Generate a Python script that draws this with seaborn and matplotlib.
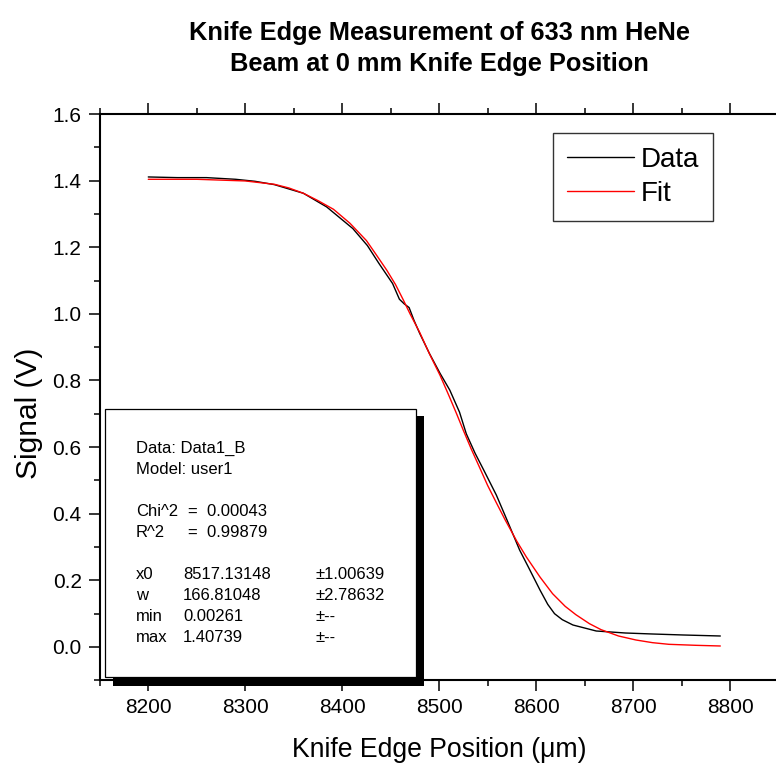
import matplotlib
matplotlib.use("Agg")
import matplotlib.pyplot as plt
from matplotlib.patches import Rectangle
from matplotlib.ticker import MultipleLocator, FormatStrFormatter
import seaborn as sns
import pandas as pd

# ---- data ----
data_x = [8200, 8230, 8260, 8290, 8310, 8330, 8360, 8384, 8411, 8426, 8438, 8452,
          8459, 8464, 8469, 8474, 8480, 8490, 8501, 8511, 8521, 8528, 8537, 8546,
          8559, 8570, 8583, 8592, 8604, 8612, 8619, 8627, 8638, 8662, 8692, 8720, 8752, 8790]
data_y = [1.411, 1.409, 1.409, 1.404, 1.398, 1.388, 1.362, 1.321, 1.256, 1.205, 1.151, 1.091,
          1.044, 1.030, 1.019, 0.981, 0.941, 0.881, 0.821, 0.771, 0.705, 0.640, 0.582, 0.531,
          0.456, 0.381, 0.291, 0.240, 0.171, 0.128, 0.100, 0.082, 0.066, 0.048, 0.042, 0.039, 0.036, 0.033]

fit_x = [8200, 8250, 8280, 8300, 8330, 8345, 8360, 8375, 8391, 8408, 8425, 8435, 8446,
         8455, 8463, 8470, 8480, 8490, 8501, 8510, 8518, 8525, 8533, 8542, 8550, 8559,
         8568, 8580, 8590, 8604, 8617, 8630, 8641, 8655, 8667, 8685, 8703, 8720, 8737,
         8765, 8790]
fit_y = [1.404, 1.404, 1.401, 1.399, 1.389, 1.378, 1.362, 1.340, 1.314, 1.272, 1.220, 1.178, 1.131,
         1.088, 1.042, 1.000, 0.944, 0.880, 0.815, 0.755, 0.700, 0.650, 0.595, 0.537, 0.485, 0.433,
         0.382, 0.318, 0.270, 0.210, 0.160, 0.122, 0.097, 0.070, 0.052, 0.033, 0.021, 0.013, 0.008,
         0.005, 0.003]

xticks = [8200, 8300, 8400, 8500, 8600, 8700, 8800]
yticks = [0.0, 0.2, 0.4, 0.6, 0.8, 1.0, 1.2, 1.4, 1.6]

fit_lines = [
    ("Data: Data1_B", "", ""),
    ("Model: user1", "", ""),
    ("", "", ""),
    ("Chi^2", "=  0.00043", ""),
    ("R^2", "=  0.99879", ""),
    ("", "", ""),
    ("x0", "8517.13148", "\u00b11.00639"),
    ("w", "166.81048", "\u00b12.78632"),
    ("min", "0.00261", "\u00b1--"),
    ("max", "1.40739", "\u00b1--"),
]

sns.set_style("ticks")
plt.rcParams['font.family'] = ['Liberation Sans', 'DejaVu Sans']
plt.rcParams['text.color'] = 'black'
plt.rcParams['axes.labelcolor'] = 'black'
plt.rcParams['xtick.color'] = 'black'
plt.rcParams['ytick.color'] = 'black'

W, H = 776, 766
fig = plt.figure(figsize=(W / 100, H / 100), dpi=100)
ax = fig.add_axes([99.8 / W, (H - 680.3) / H, 678.7 / W, 566.3 / H])

df_data = pd.DataFrame({"x": data_x, "y": data_y})
df_fit = pd.DataFrame({"x": fit_x, "y": fit_y})
sns.lineplot(data=df_data, x="x", y="y", ax=ax, color="black", lw=1.0,
             sort=False, estimator=None, label="Data")
sns.lineplot(data=df_fit, x="x", y="y", ax=ax, color="red", lw=1.0,
             sort=False, estimator=None, label="Fit")

ax.set_xlim(8150, 8850)
ax.set_ylim(-0.1, 1.6)
ax.set_xticks(xticks)
ax.set_yticks(yticks)
ax.xaxis.set_minor_locator(MultipleLocator(50))
ax.yaxis.set_minor_locator(MultipleLocator(0.1))
ax.yaxis.set_major_formatter(FormatStrFormatter('%.1f'))

for s in ax.spines.values():
    s.set_visible(True)
    s.set_linewidth(1.5)
    s.set_color("black")

ax.tick_params(which='both', direction='out', top=True, right=True,
               labeltop=False, labelright=False, color='black', labelcolor='black')
ax.tick_params(which='major', length=8, width=1.1, labelsize=15, pad=5)
ax.tick_params(which='minor', length=4, width=1.1)

ax.set_xlabel("Knife Edge Position (\u03bcm)", fontsize=19.2, labelpad=14, color='black')
ax.set_ylabel("Signal (V)", fontsize=21.5, labelpad=7, color='black')
ax.yaxis.label.set_y(0.472)
ax.set_title("Knife Edge Measurement of 633 nm HeNe\nBeam at 0 mm Knife Edge Position",
             fontsize=18.3, fontweight='bold', pad=31, linespacing=1.37, color='black')

leg = ax.legend(loc='upper right', bbox_to_anchor=(0.9035, 0.9665), borderaxespad=0,
                fontsize=20, frameon=True, fancybox=False, shadow=False,
                handlelength=2.4, handletextpad=0.25, borderpad=0.5, labelspacing=0.28)
leg.get_frame().set_edgecolor("black")
leg.get_frame().set_linewidth(1.0)
for h in leg.get_lines():
    h.set_linewidth(1.0)
for t in leg.get_texts():
    t.set_color('black')

def fx(px):
    return px / W

def fy(py):
    return 1 - py / H

# shadow and fit parameter box
shadow = Rectangle((fx(113), fy(686)), fx(424) - fx(113), fy(416) - fy(686),
                   transform=fig.transFigure, facecolor='black', edgecolor='none',
                   zorder=5, clip_on=False)
box = Rectangle((fx(105.5), fy(677)), fx(416) - fx(105.5), fy(409) - fy(677),
                transform=fig.transFigure, facecolor='white', edgecolor='black',
                linewidth=0.9, zorder=6, clip_on=False)
ax.add_patch(shadow)
ax.add_patch(box)

y0 = 448
dy = 21.1
for i, (a, b, c) in enumerate(fit_lines):
    yy = fy(y0 + i * dy)
    if a:
        ax.text(fx(136), yy, a, transform=fig.transFigure, fontsize=12, va='center',
                ha='left', zorder=7, color='black')
    if b:
        xb = 188 if b.startswith("=") else 183
        ax.text(fx(xb), yy, b, transform=fig.transFigure, fontsize=12, va='center',
                ha='left', zorder=7, color='black')
    if c:
        ax.text(fx(316), yy, c, transform=fig.transFigure, fontsize=12, va='center',
                ha='left', zorder=7, color='black')

fig.savefig("out.png", dpi=100)
